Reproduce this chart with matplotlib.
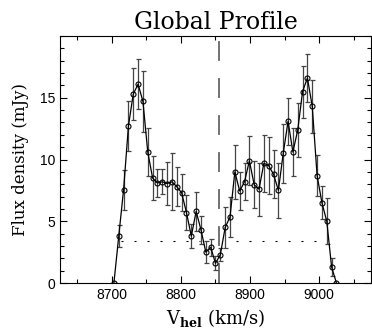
import matplotlib
matplotlib.use("Agg")
import matplotlib.pyplot as plt
from matplotlib.ticker import MultipleLocator

# heliocentric velocity (km/s) and flux density (mJy)
velocity = [8703, 8710, 8717, 8724, 8731, 8738, 8745, 8752, 8759, 8766,
            8773, 8780, 8787, 8794, 8801, 8808, 8815, 8822, 8829, 8836,
            8843, 8850, 8857, 8864, 8871, 8878, 8885, 8892, 8899, 8906,
            8913, 8920, 8927, 8934, 8941, 8948, 8955, 8962, 8969, 8976,
            8983, 8990, 8997, 9004, 9011, 9018, 9025]
flux = [0.0, 3.8, 7.55, 12.7, 15.3, 16.1, 14.7, 10.6, 8.5, 8.1,
        8.2, 8.05, 8.2, 7.8, 7.3, 5.7, 3.8, 5.8, 4.3, 2.5,
        2.9, 1.6, 2.3, 4.5, 5.35, 9.0, 7.45, 8.2, 9.9, 7.95,
        7.6, 9.7, 9.5, 8.8, 7.5, 10.5, 13.1, 10.6, 12.4, 15.5,
        16.6, 14.3, 8.7, 6.5, 5.0, 1.3, 0.0]
flux_err = [0.0, 0.9, 1.6, 2.0, 2.1, 2.0, 2.5, 1.95, 1.8, 1.1,
            1.0, 1.75, 2.3, 1.6, 1.5, 1.4, 1.0, 1.6, 1.1, 0.9,
            0.7, 0.55, 0.55, 1.65, 1.6, 2.2, 1.5, 1.5, 2.0, 1.9,
            2.15, 2.3, 2.3, 1.95, 2.2, 2.4, 1.9, 1.95, 2.2, 2.1,
            1.95, 2.15, 1.65, 1.35, 1.85, 0.7, 0.0]

v_sys = 8854.5
level = 3.4
level_left = [8713, 8828]
level_right = [8880, 8998]

plt.rcParams['mathtext.fontset'] = 'dejavuserif'

fig = plt.figure(figsize=(3.72, 3.33), dpi=100)
ax = fig.add_axes([0.1613, 0.150, 0.836, 0.742])

ax.errorbar(velocity, flux, yerr=flux_err, fmt="none", ecolor="#444444",
            elinewidth=0.9, capsize=1.8, capthick=0.9, zorder=2)
ax.plot(velocity, flux, color="black", lw=0.9, marker="o", ms=3.6,
        mfc="none", mec="black", mew=0.8, zorder=3)

vline, = ax.plot([v_sys, v_sys], [0, 20], color="#666666", lw=1.3, zorder=1)
vline.set_dashes([11, 9.5])

ax.plot(level_left, [level, level], color="black", lw=0.8, ls=(0, (1.8, 9.9)))
ax.plot(level_right, [level, level], color="black", lw=0.8, ls=(0, (1.8, 9.9)))

ax.set_xlim(8625, 9075)
ax.set_ylim(0, 20)
ax.xaxis.set_major_locator(MultipleLocator(100))
ax.xaxis.set_minor_locator(MultipleLocator(50))
ax.yaxis.set_major_locator(MultipleLocator(5))
ax.yaxis.set_minor_locator(MultipleLocator(1))
ax.set_yticks([0, 5, 10, 15])
ax.tick_params(which="both", direction="in", top=True, right=True,
               labelsize=10, width=0.8)
ax.tick_params(which="major", length=5)
ax.tick_params(which="minor", length=3)
for lab in ax.get_xticklabels() + ax.get_yticklabels():
    lab.set_family("Liberation Sans")

ax.set_title("Global Profile", family="DejaVu Serif", fontsize=17, pad=5)
ax.set_xlabel(r"V$_{\mathbf{hel}}$ (km/s)", family="DejaVu Serif", fontsize=13)
ax.set_ylabel("Flux density (mJy)", family="DejaVu Serif", fontsize=12,
              labelpad=8)

fig.savefig("out.png", dpi=100)
